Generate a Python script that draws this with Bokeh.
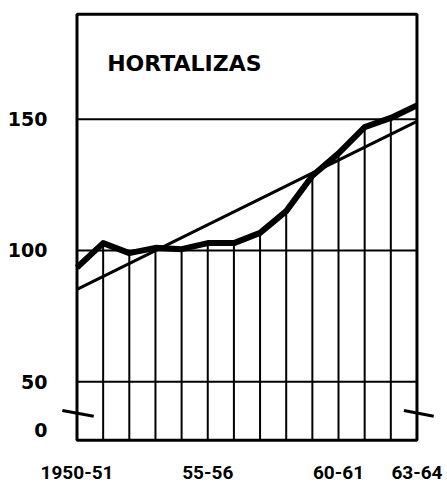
from bokeh.plotting import figure
from bokeh.models import FixedTicker, Range1d, Label
from bokeh.embed import file_html
from bokeh.resources import INLINE

# ---- data ----
years = list(range(14))  # index 0 = 1950-51 ... 13 = 1963-64
year_labels = {0: "1950-51", 5: "55-56", 10: "60-61", 13: "63-64"}
hortalizas = [93.5, 102.8, 99.0, 101.0, 100.5, 102.8, 102.8, 106.7, 115.0, 128.5, 137.0, 147.0, 150.5, 155.3]
trend_x = [0, 13]
trend_y = [85.2, 149.2]
y_ticks = [31.4, 50, 100, 150]
y_tick_labels = {31.4: "0", 50: "50", 100: "100", 150: "150"}
y_grid = [50, 100, 150]
title_text = "HORTALIZAS"

# layout constants of the drawing (broken axis between 0 and 50)
box_left, box_right = 0, 13
box_bottom, box_top = 27.7, 190.0
break_left = ([-0.56, 0.64], [39.0, 36.8])
break_right = ([12.50, 13.64], [39.0, 36.8])

p = figure(width=447, height=485, output_backend="svg", toolbar_location=None,
           x_range=Range1d(-0.784, 13.90), y_range=Range1d(25.3, 192.2),
           min_border_left=56, min_border_right=7, min_border_top=8, min_border_bottom=39)

p.background_fill_color = "white"
p.border_fill_color = "white"
p.outline_line_color = None
p.xgrid.visible = False
p.ygrid.visible = False

# axes (labels only)
p.xaxis.ticker = FixedTicker(ticks=list(year_labels.keys()))
p.xaxis.major_label_overrides = year_labels
p.xaxis.major_label_text_font = "Roboto"
p.xaxis.major_label_text_font_style = "bold"
p.xaxis.major_label_text_font_size = "19px"
p.xaxis.major_label_text_color = "black"
p.xaxis.major_label_standoff = 13

p.yaxis.ticker = FixedTicker(ticks=y_ticks)
p.yaxis.major_label_overrides = y_tick_labels
p.yaxis.major_label_text_font = "DejaVu Sans"
p.yaxis.major_label_text_font_style = "bold"
p.yaxis.major_label_text_font_size = "19px"
p.yaxis.major_label_text_color = "black"
p.yaxis.major_label_standoff = 3

for ax in (p.xaxis, p.yaxis):
    ax.axis_line_color = None
    ax.major_tick_line_color = None
    ax.minor_tick_line_color = None

# horizontal reference lines
p.segment(x0=[box_left] * len(y_grid), x1=[box_right] * len(y_grid), y0=y_grid, y1=y_grid,
          line_color="black", line_width=2)

# vertical lines from the base up to the curve
p.segment(x0=years[1:-1], x1=years[1:-1], y0=[box_bottom] * 12, y1=hortalizas[1:-1],
          line_color="black", line_width=2)

# frame
p.quad(left=[box_left], right=[box_right], bottom=[box_bottom], top=[box_top],
       fill_color=None, line_color="black", line_width=3)

# series
p.line(trend_x, trend_y, line_color="black", line_width=3)
p.line(years, hortalizas, line_color="black", line_width=6, line_join="round")

# axis break marks
for bx, by in (break_left, break_right):
    p.line(bx, by, line_color="black", line_width=3)

# title inside the frame
p.add_layout(Label(x=1.155, y=171.1, text=title_text, text_font="DejaVu Sans",
                   text_font_style="bold", text_font_size="22px", text_color="black",
                   text_baseline="alphabetic"))

open("out.html", "w").write(file_html(p, INLINE))
